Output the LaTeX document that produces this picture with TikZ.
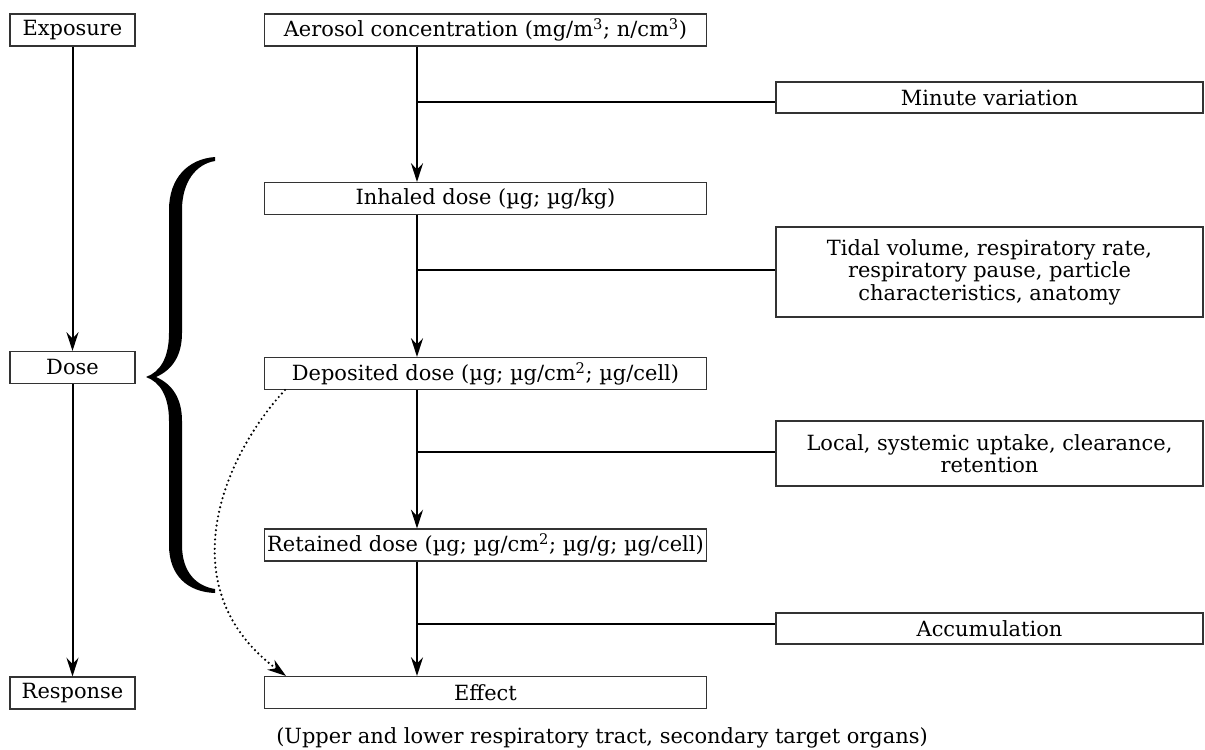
\documentclass[tikz,border=0pt]{standalone}
\usepackage{fontspec}
\setmainfont{DejaVu Serif}
\usetikzlibrary{arrows.meta}
\newcommand{\bxfont}{\fontsize{15.7pt}{16.8pt}\selectfont}
\tikzset{
  box/.style={draw=black!80, line width=0.8pt, inner sep=0pt, align=center, font=\bxfont},
  lbox/.style={box, minimum width=93.75pt, minimum height=24pt},
  mbox/.style={box, minimum width=331.5pt, minimum height=24pt},
  rbox/.style={box, minimum width=320.25pt, minimum height=#1},
  flow/.style={line width=1.5pt, -{Stealth[length=14pt,width=9pt,inset=4.5pt]}},
  branch/.style={line width=1.5pt},
  dots/.style={line width=1.8pt, line cap=round, dash pattern=on 0pt off 3.5pt,
     -{Stealth[length=14pt,width=9pt,inset=4.5pt]}},
}
\begin{document}
\begin{tikzpicture}[x=0.75pt,y=-0.75pt]
\useasboundingbox (0,0) rectangle (1205,749);
% left column
\node[lbox] (expo) at (72.5,30) {Exposure};
\node[lbox] (dose) at (72.5,367.5) {Dose};
\node[lbox] (resp) at (72.5,693) {Response};
% middle column
\node[mbox] (aero) at (485.5,30) {Aerosol concentration (mg/m\textsuperscript{3}; n/cm\textsuperscript{3})};
\node[mbox] (inh) at (485.5,198.5) {Inhaled dose (µg; µg/kg)};
\node[mbox] (dep) at (485.5,373.5) {Deposited dose (µg; µg/cm\textsuperscript{2}; µg/cell)};
\node[mbox] (ret) at (485.5,545) {Retained dose (µg; µg/cm\textsuperscript{2}; µg/g; µg/cell)};
\node[mbox] (eff) at (485.5,692.5) {Effect};
\node[font=\bxfont, inner sep=0pt, anchor=west] (cap) at (276,738) {(Upper and lower respiratory tract, secondary target organs)};
% right column
\node[rbox=23.25pt] (min) at (989.5,97.5) {Minute variation};
\node[rbox=67.5pt] (tid) at (989.5,272) {Tidal volume, respiratory rate,\\respiratory pause, particle\\characteristics, anatomy};
\node[rbox=48.75pt] (loc) at (989.5,453.5) {Local, systemic uptake, clearance,\\retention};
\node[rbox=23.25pt] (acc) at (989.5,628.5) {Accumulation};
% chain coordinates
\coordinate (cx) at (417,0);
\coordinate (b1) at (417,102);
\coordinate (b2) at (417,270);
\coordinate (b3) at (417,452);
\coordinate (b4) at (417,624);
\coordinate (dA) at (285,0);
\coordinate (dB) at (286,0);
% left arrows
\draw[flow] (expo) -- (dose);
\draw[flow] (dose) -- (resp);
% main chain
\draw[flow] (aero.south -| cx) -- (inh.north -| cx);
\draw[flow] (inh.south -| cx) -- (dep.north -| cx);
\draw[flow] (dep.south -| cx) -- (ret.north -| cx);
\draw[flow] (ret.south -| cx) -- (eff.north -| cx);
% branches
\draw[branch] (b1) -- (b1 -| min.west);
\draw[branch] (b2) -- (b2 -| tid.west);
\draw[branch] (b3) -- (b3 -| loc.west);
\draw[branch] (b4) -- (b4 -| acc.west);
% dotted curve
\draw[dots] (dep.south -| dA) .. controls (220,460) and (170,590) .. (eff.north -| dB);
% brace
\fill[black] (215,157) .. controls (188,159) and (169,178) .. (169,210) -- (169,333)
  .. controls (169,358) and (160,372) .. (146,377)
  .. controls (160,382) and (169,396) .. (169,421) -- (169,545)
  .. controls (169,576) and (188,592) .. (215,593) -- (215,589)
  .. controls (196,586) and (182,572) .. (182,545) -- (182,421)
  .. controls (182,398) and (172,384) .. (156,377)
  .. controls (172,370) and (182,356) .. (182,333) -- (182,210)
  .. controls (182,182) and (196,164) .. (215,161) -- cycle;
\end{tikzpicture}
\end{document}
